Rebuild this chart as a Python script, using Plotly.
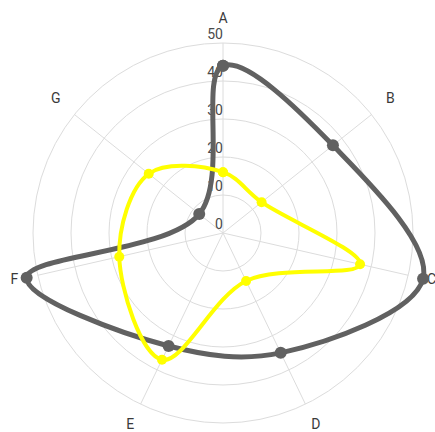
import plotly.graph_objects as go

categories = ["A", "B", "C", "D", "E", "F", "G"]
gray_values = [44, 37, 54, 35, 33, 53, 8]
yellow_values = [16, 13, 37, 14, 37, 28, 25]
radial_ticks = [0, 10, 20, 30, 40, 50]
radial_tick_labels = ["0", "10", "20", "30", "40", "50"]

W, H = 450, 460
cx, cy = 223, 233
px_per_unit = 3.8
rmax = 57
R = rmax * px_per_unit
label_r = 214 / px_per_unit

fig = go.Figure()

# spokes (angular grid limited to outer ring 50)
spoke_r, spoke_t = [], []
for c in categories:
    spoke_r += [0, radial_ticks[-1], None]
    spoke_t += [c, c, None]
fig.add_trace(go.Scatterpolar(r=spoke_r, theta=spoke_t, mode="lines",
                              line=dict(color="#dcdcdc", width=1),
                              hoverinfo="skip", showlegend=False, connectgaps=False))

# radial tick labels along the A axis
fig.add_trace(go.Scatterpolar(
    r=radial_ticks, theta=[categories[0]] * len(radial_ticks), mode="text",
    text=radial_tick_labels, textposition="top left",
    textfont=dict(family="Roboto", size=14, color="#4a4a4a"),
    cliponaxis=False, hoverinfo="skip", showlegend=False))

# category labels
fig.add_trace(go.Scatterpolar(
    r=[label_r] * len(categories), theta=categories, mode="text",
    text=categories, textposition="middle center",
    textfont=dict(family="Roboto", size=14, color="#3a3a3a"),
    cliponaxis=False, hoverinfo="skip", showlegend=False))

def closed(v):
    return v + v[:1]

fig.add_trace(go.Scatterpolar(
    r=closed(gray_values), theta=closed(categories), mode="lines+markers",
    line=dict(color="#616161", width=5, shape="spline", smoothing=1),
    marker=dict(color="#616161", size=12), cliponaxis=False, showlegend=False))

fig.add_trace(go.Scatterpolar(
    r=closed(yellow_values), theta=closed(categories), mode="lines+markers",
    line=dict(color="#ffff00", width=4, shape="spline", smoothing=1),
    marker=dict(color="#ffff00", size=10), cliponaxis=False, showlegend=False))

fig.update_layout(
    width=W, height=H,
    margin=dict(l=0, r=0, t=0, b=0),
    paper_bgcolor="white",
    showlegend=False,
    font=dict(family="Roboto", size=14, color="#444444"),
    polar=dict(
        domain=dict(x=[(cx - R) / W, (cx + R) / W], y=[1 - (cy + R) / H, 1 - (cy - R) / H]),
        bgcolor="rgba(0,0,0,0)",
        radialaxis=dict(range=[0, rmax], tickvals=radial_ticks, showticklabels=False,
                        showline=False, ticks="", gridcolor="#dcdcdc", gridwidth=1),
        angularaxis=dict(categoryorder="array", categoryarray=categories,
                         rotation=90, direction="clockwise", showgrid=False,
                         showline=False, ticks="", showticklabels=False),
    ),
)

fig.write_html("out.html", config={"displayModeBar": False}, post_script=(
    "document.body.style.margin='0';"
    "document.body.style.overflow='hidden';"
    "document.documentElement.style.overflow='hidden';"))
